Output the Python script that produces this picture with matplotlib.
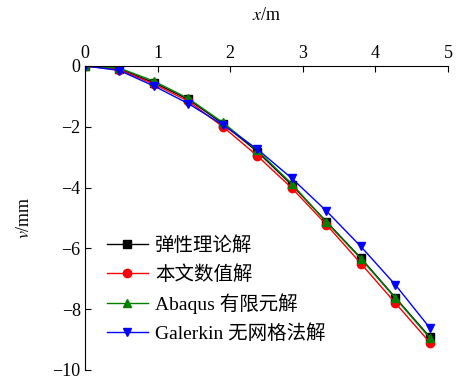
import numpy as np
import matplotlib.pyplot as plt

plt.rcParams['font.family'] = ['Liberation Serif', 'Noto Sans CJK SC']
plt.rcParams['mathtext.fontset'] = 'stix'

x_pos = [0.0, 0.475, 0.95, 1.425, 1.9, 2.375, 2.85, 3.325, 3.8, 4.275, 4.75]
v_elastic = [0.0, -0.10, -0.55, -1.10, -1.90, -2.82, -3.92, -5.12, -6.32, -7.62, -8.92]
v_numeric = [0.0, -0.12, -0.60, -1.16, -2.00, -2.96, -4.02, -5.22, -6.50, -7.80, -9.10]
v_abaqus = [0.0, -0.07, -0.50, -1.07, -1.86, -2.78, -3.88, -5.14, -6.34, -7.64, -8.95]
v_galerkin = [0.0, -0.15, -0.66, -1.24, -1.94, -2.74, -3.70, -4.77, -5.94, -7.20, -8.62]

labels = ['弹性理论解', '本文数值解', 'Abaqus 有限元解', 'Galerkin 无网格法解']
colors = ['black', 'red', 'green', 'blue']
markers = ['s', 'o', '^', 'v']

fig = plt.figure(figsize=(4.59, 3.79), dpi=100)
ax = fig.add_axes([0.185, 0.024, 0.791, 0.802])

for vals, lab, c, m in zip([v_elastic, v_numeric, v_abaqus, v_galerkin], labels, colors, markers):
    ax.plot(x_pos, vals, color=c, marker=m, markersize=6, linewidth=1.0, label=lab)

ax.set_xlim(0, 5)
ax.set_ylim(-10, 0)
ax.set_xticks(range(0, 6))
ax.set_yticks([0, -2, -4, -6, -8, -10])
ax.set_yticklabels(['0', '\u22122', '\u22124', '\u22126', '\u22128', '\u221210'])

ax.spines['right'].set_visible(False)
ax.spines['bottom'].set_visible(False)
ax.xaxis.tick_top()
ax.xaxis.set_label_position('top')
ax.tick_params(axis='x', direction='in', length=4, labelsize=13, pad=3)
ax.tick_params(axis='y', direction='in', length=4, labelsize=13, pad=3)

ax.set_xlabel('$x$/m', fontsize=13, labelpad=18)
ax.set_ylabel('$v$/mm', fontsize=13, labelpad=14)

ax.legend(loc='lower left', bbox_to_anchor=(0.06, 0.09), frameon=False, fontsize=14,
          handlelength=2.1, handletextpad=0.4, labelspacing=0.5, borderpad=0,
          borderaxespad=0)

fig.savefig('out.png', dpi=100)
